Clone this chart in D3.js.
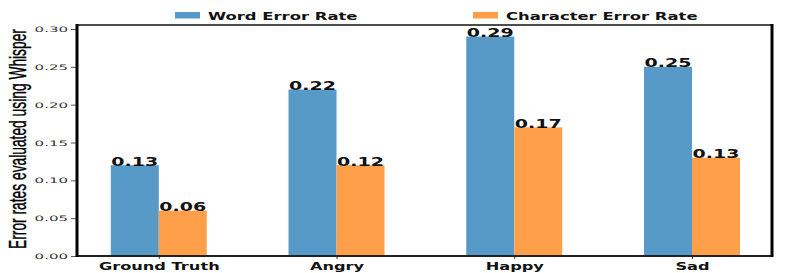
<!DOCTYPE html>
<html><head><meta charset="utf-8">
<script src="https://cdn.jsdelivr.net/npm/d3@7"></script>
<style>body{margin:0;background:#fff}svg{display:block}</style>
</head><body>
<svg id="chart" width="790" height="273"></svg>
<script>
const categories = ["Ground Truth", "Angry", "Happy", "Sad"];
const werValues = [0.12, 0.22, 0.29, 0.25];
const cerValues = [0.06, 0.12, 0.17, 0.13];
const werLabels = ["0.13", "0.22", "0.29", "0.25"];
const cerLabels = ["0.06", "0.12", "0.17", "0.13"];
const yTicks = [0, 0.05, 0.10, 0.15, 0.20, 0.25, 0.30];
const seriesNames = ["Word Error Rate", "Character Error Rate"];
const yTitle = "Error rates evaluated using Whisper";

const colors = ["#5799c7", "#ff9f4a"];
const svg = d3.select("#chart");
const L = 77, R = 772, T = 25, B = 256;
const x = d3.scaleLinear().domain([-0.46, 3.45]).range([L, R]);
const y = d3.scaleLinear().domain([0, 0.3053]).range([B, T]);
const bw = 0.27;

function stretch(sel, k) {
  sel.each(function () {
    const n = this.getComputedTextLength();
    d3.select(this).attr("textLength", n * k).attr("lengthAdjust", "spacingAndGlyphs");
  });
}

// bars
const series = [werValues, cerValues];
const labels = [werLabels, cerLabels];
series.forEach((vals, s) => {
  svg.append("g").selectAll("rect").data(vals).join("rect")
    .attr("x", (d, i) => x(s === 0 ? i - bw : i))
    .attr("width", x(bw) - x(0))
    .attr("y", d => y(d))
    .attr("height", d => y(0) - y(d))
    .attr("fill", colors[s]);
});
series.forEach((vals, s) => {
  const t = svg.append("g").selectAll("text").data(vals).join("text")
    .attr("x", (d, i) => x(s === 0 ? i - bw / 2 : i + bw / 2))
    .attr("y", d => y(d) + 0.5)
    .attr("text-anchor", "middle")
    .attr("font-family", "DejaVu Sans").attr("font-weight", "bold")
    .attr("font-size", 11.5).attr("fill", "#111")
    .text((d, i) => labels[s][i]);
  stretch(t, 1.65);
});

// y axis
const yAxis = svg.append("g").attr("transform", `translate(${L},0)`)
  .call(d3.axisLeft(y).tickValues(yTicks).tickFormat(d3.format(".2f")).tickSize(6).tickPadding(3));
yAxis.select(".domain").remove();
yAxis.selectAll(".tick line").attr("stroke", "#555");
yAxis.selectAll(".tick text").attr("font-family", "DejaVu Sans").attr("font-size", 7.5)
  .attr("fill", "#333").attr("dy", "0.35em");
stretch(yAxis.selectAll(".tick text"), 2.0);

// x axis
const xAxis = svg.append("g").attr("transform", `translate(0,${B})`)
  .call(d3.axisBottom(x).tickValues(d3.range(categories.length)).tickFormat(i => categories[i]).tickSize(3).tickPadding(4));
xAxis.select(".domain").remove();
xAxis.selectAll(".tick line").attr("stroke", "#333");
xAxis.selectAll(".tick text").attr("font-family", "DejaVu Sans").attr("font-weight", "bold")
  .attr("font-size", 10).attr("fill", "#111").attr("dy", "0.71em");
stretch(xAxis.selectAll(".tick text"), 1.62);

// frame
svg.append("line").attr("x1", L - 1).attr("x2", R + 1).attr("y1", T).attr("y2", T).attr("stroke", "#111").attr("stroke-width", 1.6);
svg.append("line").attr("x1", L - 1).attr("x2", R + 1).attr("y1", B).attr("y2", B).attr("stroke", "#222").attr("stroke-width", 2.2);
svg.append("line").attr("x1", L).attr("x2", L).attr("y1", T - 1).attr("y2", B + 1).attr("stroke", "#000").attr("stroke-width", 3);
svg.append("line").attr("x1", R).attr("x2", R).attr("y1", T - 1).attr("y2", B + 1).attr("stroke", "#000").attr("stroke-width", 3);

// legend
const legX = [175, 473];
seriesNames.forEach((name, s) => {
  const g = svg.append("g").attr("transform", `translate(${legX[s]},12)`);
  g.append("rect").attr("width", 25).attr("height", 6.5).attr("fill", colors[s]);
  const t = g.append("text").attr("x", 33).attr("y", 7.5)
    .attr("font-family", "DejaVu Sans").attr("font-weight", "bold").attr("font-size", 10)
    .attr("fill", "#111").text(name);
  stretch(t, 1.64);
});

// y title (condensed via scale transform)
const yt = svg.append("text")
  .attr("text-anchor", "middle")
  .attr("font-family", "Liberation Sans Narrow, Liberation Sans, Arial, sans-serif")
  .attr("font-size", 23).attr("fill", "#000").attr("stroke", "#000").attr("stroke-width", 0.4)
  .text(yTitle);
const natural = yt.node().getComputedTextLength();
yt.attr("transform", `translate(26,139) rotate(-90) scale(${220 / natural},1)`);
</script>
</body></html>
